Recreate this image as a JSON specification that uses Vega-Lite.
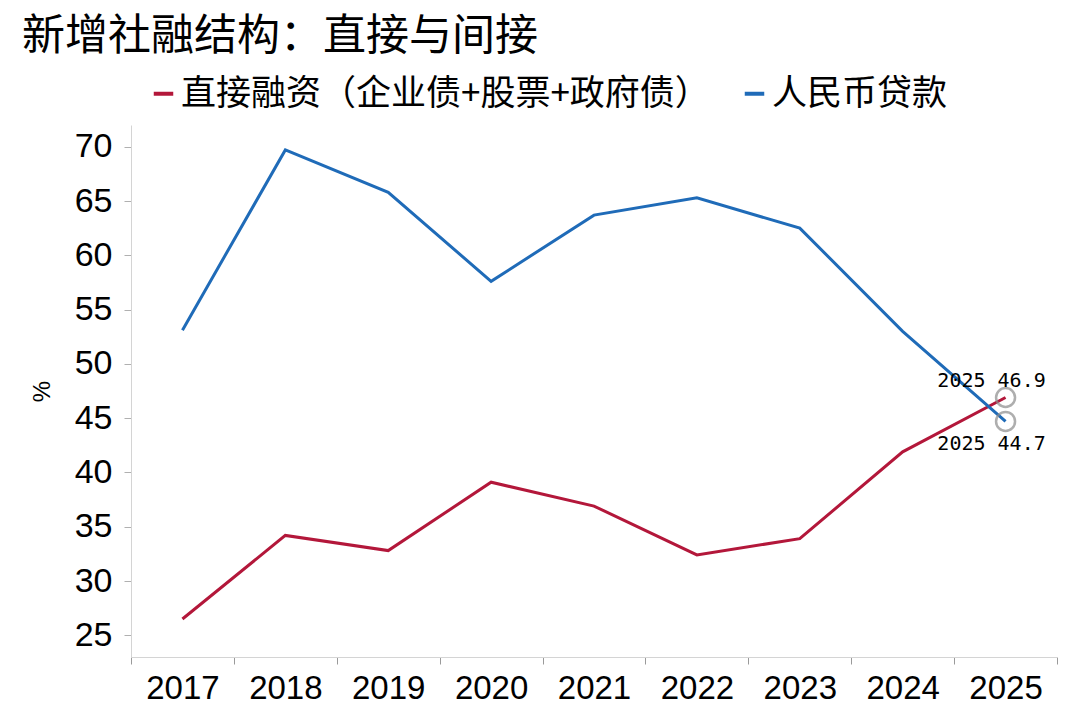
{
  "$schema": "https://vega.github.io/schema/vega-lite/v6.json",
  "autosize": "none",
  "width": 926,
  "height": 532,
  "padding": {"left": 131, "top": 125, "right": 23, "bottom": 59},
  "background": "white",
  "title": {
    "text": "新增社融结构：直接与间接",
    "font": "Noto Sans CJK SC",
    "fontSize": 43,
    "fontWeight": "normal",
    "color": "#000000",
    "anchor": "start",
    "frame": "group",
    "dx": -109,
    "offset": 17
  },
  "data": {
    "values": [
      {"year": "2017", "series": "直接融资（企业债+股票+政府债）", "value": 26.5},
      {"year": "2018", "series": "直接融资（企业债+股票+政府债）", "value": 34.2},
      {"year": "2019", "series": "直接融资（企业债+股票+政府债）", "value": 32.8},
      {"year": "2020", "series": "直接融资（企业债+股票+政府债）", "value": 39.1},
      {"year": "2021", "series": "直接融资（企业债+股票+政府债）", "value": 36.9},
      {"year": "2022", "series": "直接融资（企业债+股票+政府债）", "value": 32.4},
      {"year": "2023", "series": "直接融资（企业债+股票+政府债）", "value": 33.9},
      {"year": "2024", "series": "直接融资（企业债+股票+政府债）", "value": 41.9},
      {"year": "2025", "series": "直接融资（企业债+股票+政府债）", "value": 46.9, "label": "2025 46.9"},
      {"year": "2017", "series": "人民币贷款", "value": 53.1},
      {"year": "2018", "series": "人民币贷款", "value": 69.7},
      {"year": "2019", "series": "人民币贷款", "value": 65.8},
      {"year": "2020", "series": "人民币贷款", "value": 57.6},
      {"year": "2021", "series": "人民币贷款", "value": 63.7},
      {"year": "2022", "series": "人民币贷款", "value": 65.3},
      {"year": "2023", "series": "人民币贷款", "value": 62.5},
      {"year": "2024", "series": "人民币贷款", "value": 53.0},
      {"year": "2025", "series": "人民币贷款", "value": 44.7, "label": "2025 44.7"}
    ]
  },
  "encoding": {
    "x": {
      "field": "year",
      "type": "ordinal",
      "scale": {"type": "band", "paddingInner": 0, "paddingOuter": 0},
      "axis": {
        "title": null,
        "labelAngle": 0,
        "tickBand": "extent",
        "labelFont": "Liberation Sans",
        "labelFontSize": 33,
        "labelColor": "#000000",
        "labelPadding": 8,
        "tickSize": 7,
        "domainColor": "#d4d4d4",
        "tickColor": "#9a9a9a",
        "grid": false
      }
    },
    "y": {
      "field": "value",
      "type": "quantitative",
      "scale": {"domain": [23, 72], "nice": false, "zero": false},
      "axis": {
        "title": "%",
        "titleFont": "Liberation Sans",
        "titleFontSize": 24,
        "titleFontWeight": "normal",
        "titleColor": "#000000",
        "titlePadding": 20,
        "values": [25, 30, 35, 40, 45, 50, 55, 60, 65, 70],
        "labelFont": "Liberation Sans",
        "labelFontSize": 34,
        "labelColor": "#000000",
        "labelPadding": 12,
        "tickSize": 7,
        "domainColor": "#d4d4d4",
        "tickColor": "#b0b0b0",
        "grid": false
      }
    }
  },
  "layer": [
    {
      "mark": {"type": "line", "strokeWidth": 3},
      "encoding": {
        "color": {
          "field": "series",
          "type": "nominal",
          "scale": {
            "domain": ["直接融资（企业债+股票+政府债）", "人民币贷款"],
            "range": ["#B3173A", "#1F6BB8"]
          },
          "legend": {
            "title": null,
            "orient": "none",
            "direction": "horizontal",
            "legendX": 15,
            "legendY": -49,
            "symbolType": "stroke",
            "symbolStrokeWidth": 4,
            "symbolSize": 380,
            "labelFont": "Noto Sans CJK SC",
            "labelFontSize": 35,
            "labelColor": "#000000",
            "labelLimit": 700,
            "labelOffset": 0,
            "columnPadding": 26
          }
        }
      }
    },
    {
      "transform": [{"filter": "datum.year == '2025'"}],
      "mark": {"type": "point", "shape": "circle", "filled": false, "stroke": "#8c8c8c", "strokeWidth": 2.5, "size": 360}
    },
    {
      "transform": [{"filter": "datum.year == '2025' && datum.series == '人民币贷款'"}],
      "mark": {"type": "text", "font": "DejaVu Sans Mono", "fontSize": 20, "color": "#000000", "dx": -14, "dy": 23},
      "encoding": {"text": {"field": "label"}}
    },
    {
      "transform": [{"filter": "datum.year == '2025' && datum.series != '人民币贷款'"}],
      "mark": {"type": "text", "font": "DejaVu Sans Mono", "fontSize": 20, "color": "#000000", "dx": -14, "dy": -17},
      "encoding": {"text": {"field": "label"}}
    }
  ],
  "config": {"view": {"stroke": null}}
}
